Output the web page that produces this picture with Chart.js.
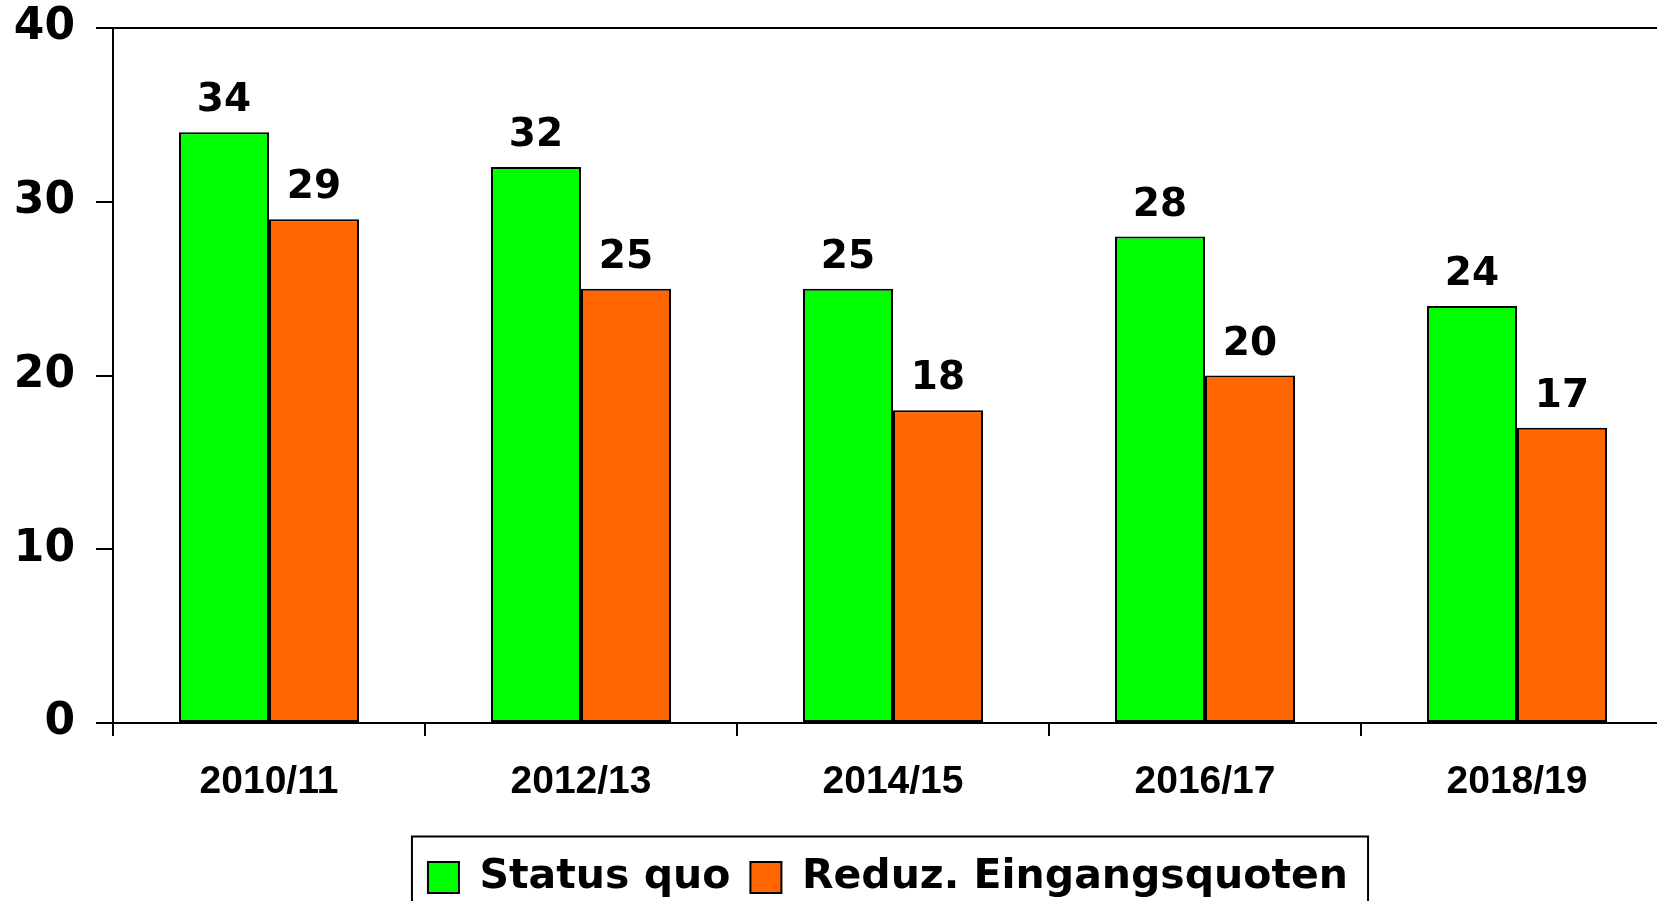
<!DOCTYPE html>
<html>
<head>
<meta charset="utf-8">
<script src="https://cdn.jsdelivr.net/npm/chart.js@4.4.1/dist/chart.umd.min.js"></script>
<style>
  html, body { margin: 0; padding: 0; background: #fff; overflow: hidden; }
  #wrap { width: 1657px; height: 901px; overflow: hidden; position: relative; }
  #box { width: 1776px; height: 914px; position: absolute; left: 0; top: 0; }
</style>
</head>
<body>
<div id="wrap"><div id="box"><canvas id="chart"></canvas></div></div>
<script>
const years = ['2010/11', '2012/13', '2014/15', '2016/17', '2018/19'];
const statusQuo = [34, 32, 25, 28, 24];
const reduziert = [29, 25, 18, 20, 17];
const yTicks = [0, 10, 20, 30, 40];

// value labels above each bar
const barValues = {
  id: 'barValues',
  afterDatasetsDraw(chart) {
    const ctx = chart.ctx;
    ctx.save();
    ctx.font = 'bold 39px "DejaVu Sans"';
    ctx.fillStyle = '#000';
    ctx.textAlign = 'center';
    ctx.textBaseline = 'alphabetic';
    chart.data.datasets.forEach((ds, i) => {
      chart.getDatasetMeta(i).data.forEach((bar, j) => {
        ctx.fillText(ds.data[j], bar.x, bar.y - 21);
      });
    });
    ctx.restore();
  }
};

// frame round the legend
const legendFrame = {
  id: 'legendFrame',
  afterDraw(chart) {
    const boxes = chart.legend.legendHitBoxes;
    if (!boxes || !boxes.length) return;
    const left = Math.min(...boxes.map(b => b.left)) - 16;
    const right = Math.max(...boxes.map(b => b.left + b.width)) + 20;
    const mid = boxes[0].top + boxes[0].height / 2;
    const ctx = chart.ctx;
    ctx.save();
    ctx.strokeStyle = '#000';
    ctx.lineWidth = 2;
    ctx.strokeRect(left, mid - 41, right - left, 95);
    ctx.restore();
  }
};

new Chart(document.getElementById('chart'), {
  type: 'bar',
  data: {
    labels: years,
    datasets: [
      {
        label: 'Status quo',
        data: statusQuo,
        backgroundColor: '#00ff00',
        borderColor: '#000',
        borderWidth: 2,
        borderSkipped: false
      },
      {
        label: 'Reduz. Eingangsquoten',
        data: reduziert,
        backgroundColor: '#ff6600',
        borderColor: '#000',
        borderWidth: 2,
        borderSkipped: false
      }
    ]
  },
  options: {
    responsive: true,
    maintainAspectRatio: false,
    animation: false,
    layout: { padding: { top: 28, bottom: 6, left: 0, right: 0 } },
    datasets: { bar: { barPercentage: 1, categoryPercentage: 0.577 } },
    plugins: {
      tooltip: { enabled: false },
      legend: {
        position: 'bottom',
        labels: {
          boxWidth: 31,
          boxHeight: 31,
          padding: 20,
          color: '#000',
          font: { family: 'DejaVu Sans', size: 41, weight: 'bold' }
        }
      }
    },
    scales: {
      x: {
        grid: { color: 'transparent', tickColor: '#000', tickLength: 13, lineWidth: 2, offset: true },
        border: { color: '#000', width: 2 },
        ticks: {
          color: '#000',
          padding: 23,
          font: { family: 'Liberation Sans', size: 39, weight: 'bold' }
        },
        afterFit(s) { s.height = 114; }
      },
      y: {
        min: 0,
        max: 40,
        afterBuildTicks(s) { s.ticks = yTicks.map(v => ({ value: v })); },
        grid: {
          color: c => (c.tick && c.tick.value === 40 ? '#000' : 'transparent'),
          tickColor: '#000',
          tickLength: 17,
          lineWidth: 2
        },
        border: { color: '#000', width: 2 },
        ticks: {
          color: '#000',
          padding: 21,
          font: { family: 'DejaVu Sans', size: 44, weight: 'bold' }
        },
        afterFit(s) {
          s.width = 113;
          s.paddingTop = 0;
          s.paddingBottom = 0;
        }
      },
      pad: {
        type: 'linear',
        position: 'right',
        grid: { display: false },
        border: { display: false },
        ticks: { display: false },
        afterFit(s) { s.width = 103; }
      }
    }
  },
  plugins: [barValues, legendFrame]
});
</script>
</body>
</html>
